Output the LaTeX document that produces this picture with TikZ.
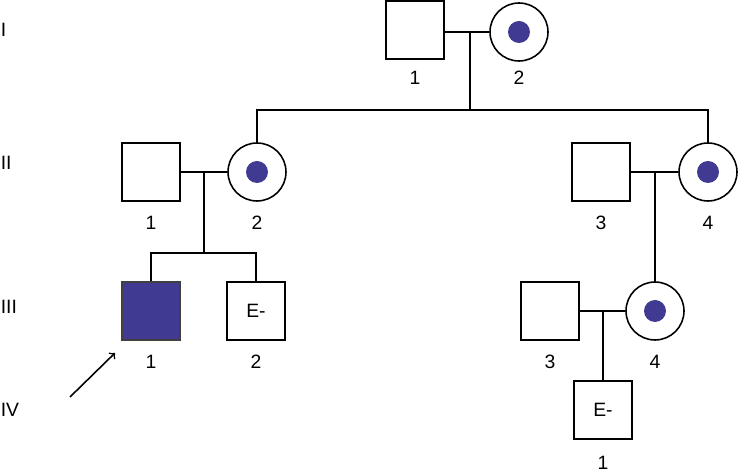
\documentclass[tikz,border=0pt]{standalone}
\usepackage{fontspec}
\setmainfont{Liberation Sans}
\usetikzlibrary{positioning}
\definecolor{affected}{RGB}{64,58,146}
\begin{document}
\begin{tikzpicture}[x=0.02cm,y=-0.02cm,line width=0.9pt,font=\fontsize{11}{13}\selectfont]
  \tikzset{male/.style={draw,minimum size=1.16cm,inner sep=0pt},
    female/.style={draw,circle,minimum size=1.16cm,inner sep=0pt,
      path picture={\fill[affected] (path picture bounding box.center) circle (0.22cm);}},
    sick/.style={male,fill=affected,draw=black!75},
    tag/.style={inner sep=0pt}}
  \useasboundingbox (0,0) rectangle (738,475);
  % generations
  \node[tag,anchor=west] (g1) at (0,30) {I};
  \node[tag,anchor=west] (g2) at (0,163) {II};
  \node[tag,anchor=west] (g3) at (0,307) {III};
  \node[tag,anchor=west] (g4) at (0,410) {IV};
  % I
  \node[male] (i1) at (415,30) {};
  \node[female] (i2) at (519,32) {};
  \node[tag] at (415,78) {1};
  \node[tag] at (519,78) {2};
  % II
  \node[male] (ii1) at (151,172) {};
  \node[female] (ii2) at (257,172) {};
  \node[male] (ii3) at (601,172) {};
  \node[female] (ii4) at (708,172) {};
  \node[tag] at (151,223) {1};
  \node[tag] at (257,223) {2};
  \node[tag] at (601,223) {3};
  \node[tag] at (708,223) {4};
  % III
  \node[sick] (iii1) at (151,311) {};
  \node[male] (iii2) at (256,311) {E-};
  \node[male] (iii3) at (550,311) {};
  \node[female] (iii4) at (655,311) {};
  \node[tag] at (151,362) {1};
  \node[tag] at (256,362) {2};
  \node[tag] at (550,362) {3};
  \node[tag] at (655,362) {4};
  % IV
  \node[male] (iv1) at (603,410) {E-};
  \node[tag] at (603,463) {1};
  % lines
  \coordinate (m1) at (470,32);
  \coordinate (s1) at (470,110);
  \draw (i1.east |- m1) -- (i2.west |- m1);
  \draw (m1) -- (s1);
  \draw (ii2.north) |- (s1) -| (ii4.north);
  \coordinate (m2) at (204,172);
  \coordinate (s2) at (204,253);
  \draw (ii1.east) -- (ii2.west);
  \draw (m2) -- (s2);
  \draw (iii1.north) |- (s2) -| (iii2.north);
  \coordinate (m3) at (655,172);
  \draw (ii3.east) -- (ii4.west);
  \draw (m3) -- (iii4.north);
  \coordinate (m4) at (603,311);
  \draw (iii3.east) -- (iii4.west);
  \draw (m4) -- (iv1.north);
  % proband
  \coordinate (pa) at (70,397);
  \coordinate (pb) at (115,353);
  \draw[->] (pa) -- (pb);
\end{tikzpicture}
\end{document}
